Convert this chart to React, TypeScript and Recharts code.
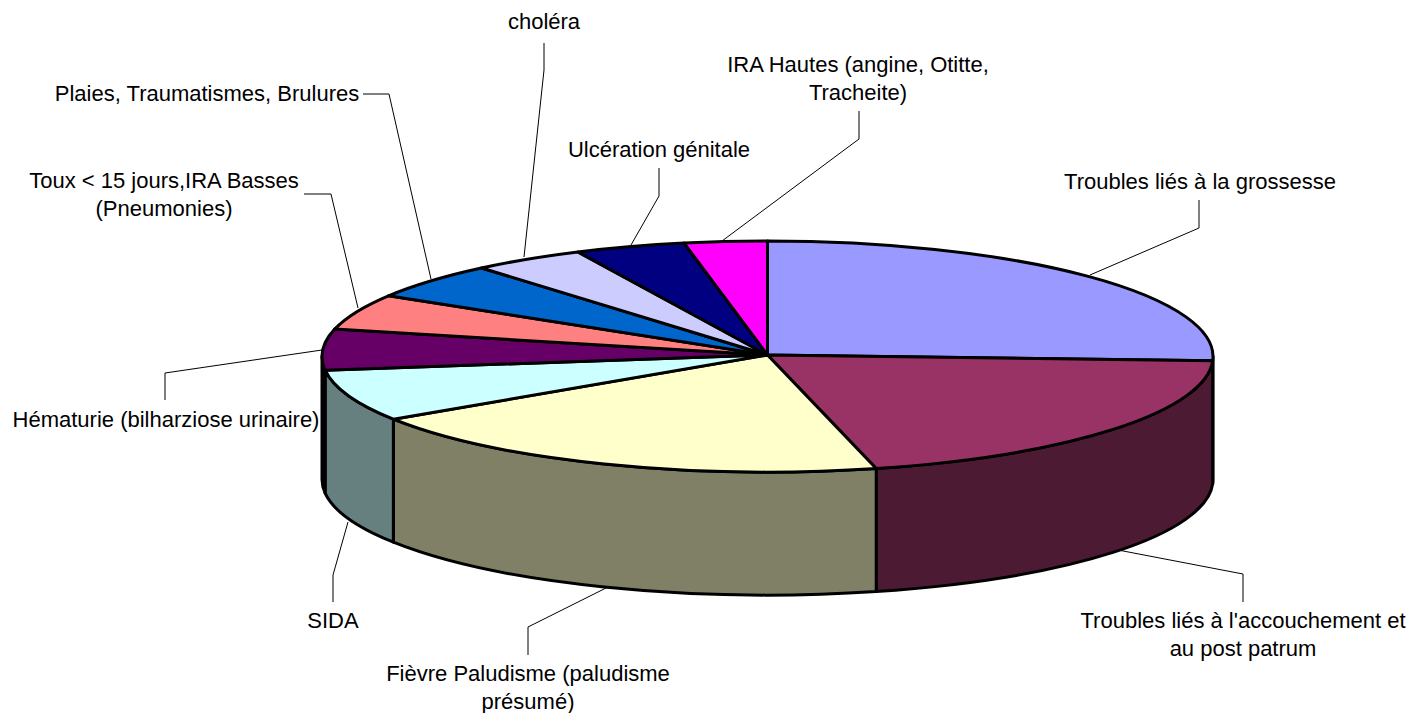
import React from "react";
import { PieChart, Pie } from "recharts";

const categories = [
  "Troubles liés à la grossesse",
  "Troubles liés à l'accouchement et au post patrum",
  "Fièvre Paludisme (paludisme présumé)",
  "SIDA",
  "Hématurie (bilharziose urinaire)",
  "Toux < 15 jours,IRA Basses (Pneumonies)",
  "Plaies, Traumatismes, Brulures",
  "choléra",
  "Ulcération génitale",
  "IRA Hautes (angine, Otitte, Tracheite)",
];
const values = [25.6, 20.5, 19.8, 7.25, 5.7, 5.0, 5.1, 4.1, 4.0, 3.0];

const topColors = ["#9999FF", "#993366", "#FFFFCC", "#CCFFFF", "#660066", "#FF8080", "#0066CC", "#CCCCFF", "#000080", "#FF00FF"];
const sideColors = ["#4D4D80", "#4D1A33", "#808066", "#668080", "#330033", "#804040", "#003366", "#666680", "#000040", "#800080"];

// wrapped label lines as they appear in the picture
const labelLines = [
  ["Troubles liés à la grossesse"],
  ["Troubles liés à l'accouchement et", "au post patrum"],
  ["Fièvre Paludisme (paludisme", "présumé)"],
  ["SIDA"],
  ["Hématurie (bilharziose urinaire)"],
  ["Toux < 15 jours,IRA Basses", "(Pneumonies)"],
  ["Plaies, Traumatismes, Brulures"],
  ["choléra"],
  ["Ulcération génitale"],
  ["IRA Hautes (angine, Otitte,", "Tracheite)"],
];
const labelAnchors = [
  [1200, 189], [1243, 628], [528, 681], [333, 628], [166, 427],
  [164, 188], [207, 101], [544, 29], [659, 157], [858, 72],
];
const leaders = [
  "1090,275 1199,228 1199,200",
  "1118,550 1243,574 1243,602",
  "608,587 528,627 528,655",
  "348,522 333,575 333,602",
  "322,350 165,373 165,400",
  "358,308 331,194 304,194",
  "431,279 389,94 363,94",
  "524,257 544,70 544,43",
  "631,245 659,196 659,168",
  "722,241 859,139 859,111",
];

const WIDTH = 1410;
const HEIGHT = 713;
const CX = 767.5;
const CY = 356.5;
const RX = 445.5;
const RY = 115.5;
const APEX_LIFT = 1.5; // slices meet a little above the ellipse centre
const DEPTH = 123;
const LINE_HEIGHT = 27.5;

const topData = categories.map((name, i) => ({ name, value: values[i], fill: topColors[i] }));
const sideData = categories.map((name, i) => ({ name, value: values[i], fill: sideColors[i] }));

// squash the polar angle into the tilted ellipse
const point = (cx: number, cy: number, rx: number, deg: number) => {
  const rad = (deg * Math.PI) / 180;
  return [cx + rx * Math.cos(rad), cy - rx * (RY / RX) * Math.sin(rad)];
};

const TopSlice = (props: any) => {
  const { cx, cy, outerRadius: rx, startAngle, endAngle, fill } = props;
  const ry = rx * (RY / RX);
  const [x1, y1] = point(cx, cy, rx, startAngle);
  const [x2, y2] = point(cx, cy, rx, endAngle);
  const large = Math.abs(startAngle - endAngle) > 180 ? 1 : 0;
  return (
    <path
      d={`M${cx},${cy - APEX_LIFT}L${x1},${y1}A${rx},${ry} 0 ${large} 1 ${x2},${y2}Z`}
      fill={fill}
      stroke="#000"
      strokeWidth={3}
      strokeLinejoin="round"
    />
  );
};

// only the part of a slice facing the viewer (0 to -180 degrees) has a wall
const SideSlice = (props: any) => {
  const { cx, cy, outerRadius: rx, startAngle, endAngle, fill } = props;
  const a = Math.min(startAngle, 0);
  const b = Math.max(endAngle, -180);
  if (a <= b) return null;
  const ry = rx * (RY / RX);
  const [x1, y1] = point(cx, cy, rx, a);
  const [x2, y2] = point(cx, cy, rx, b);
  return (
    <path
      d={`M${x1},${y1}A${rx},${ry} 0 0 1 ${x2},${y2}L${x2},${y2 + DEPTH}A${rx},${ry} 0 0 0 ${x1},${y1 + DEPTH}Z`}
      fill={fill}
      stroke="#000"
      strokeWidth={3}
      strokeLinejoin="round"
    />
  );
};

const SliceLabel = (props: any) => {
  const i = props.index;
  const [x, y] = labelAnchors[i];
  return (
    <g>
      <polyline points={leaders[i]} fill="none" stroke="#000" strokeWidth={1} />
      <text x={x} y={y} textAnchor="middle" fontFamily="'Liberation Sans', Arial, sans-serif" fontSize={22} fill="#000">
        {labelLines[i].map((line, k) => (
          <tspan key={k} x={x} dy={k === 0 ? 0 : LINE_HEIGHT}>
            {line}
          </tspan>
        ))}
      </text>
    </g>
  );
};

export default function App() {
  return (
    <div style={{ position: "absolute", left: 0, top: 0, width: WIDTH, height: HEIGHT, background: "#fff" }}>
      <PieChart width={WIDTH} height={HEIGHT} margin={{ top: 0, right: 0, bottom: 0, left: 0 }}>
        <Pie
          data={sideData}
          dataKey="value"
          cx={CX}
          cy={CY}
          outerRadius={RX}
          startAngle={90}
          endAngle={-270}
          shape={SideSlice}
          isAnimationActive={false}
        />
        <Pie
          data={topData}
          dataKey="value"
          cx={CX}
          cy={CY}
          outerRadius={RX}
          startAngle={90}
          endAngle={-270}
          shape={TopSlice}
          label={SliceLabel}
          labelLine={false}
          isAnimationActive={false}
        />
      </PieChart>
    </div>
  );
}
